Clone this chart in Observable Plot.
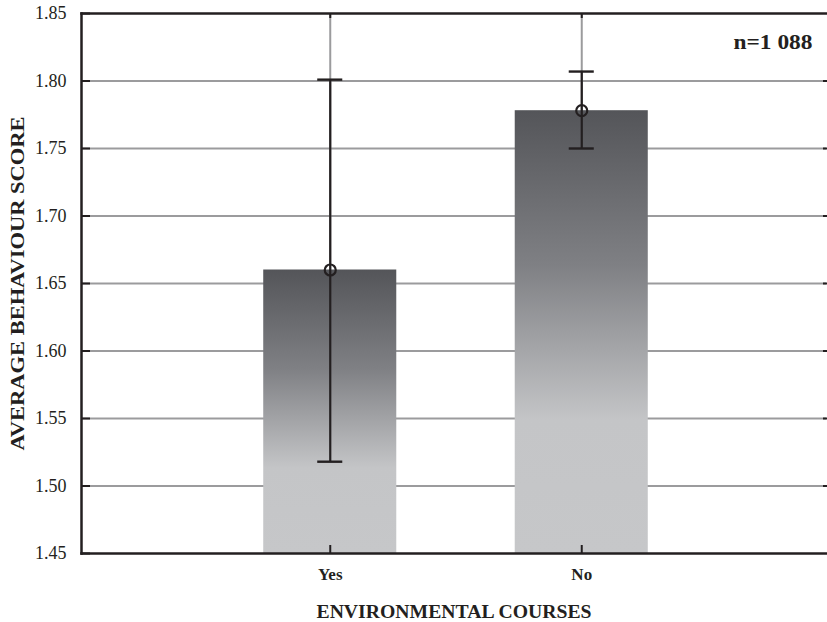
<!DOCTYPE html>
<html>
<head>
<meta charset="utf-8">
<script src="https://cdn.jsdelivr.net/npm/d3@7"></script>
<script src="https://cdn.jsdelivr.net/npm/@observablehq/plot@0.6"></script>
<style>
  html, body { margin: 0; padding: 0; background: #fff; }
  #chart svg, #chart svg text { font-family: "Liberation Serif", "Times New Roman", serif !important; }
</style>
</head>
<body>
<div id="chart"></div>
<script>
const categories = ["Yes", "No"];
const means = [1.660, 1.778];
const lower = [1.518, 1.750];
const upper = [1.801, 1.807];
const yTicks = [1.45, 1.50, 1.55, 1.60, 1.65, 1.70, 1.75, 1.80, 1.85];
const gridTicks = [1.50, 1.55, 1.60, 1.65, 1.70, 1.75, 1.80];
const yDomain = [1.45, 1.85];
const xTitle = "ENVIRONMENTAL COURSES";
const yTitle = "AVERAGE BEHAVIOUR SCORE";
const sampleLabel = "n=1 088";

const data = categories.map((c, i) => ({c, mean: means[i], lo: lower[i], hi: upper[i]}));

const ink = "#231f20";
const grid = "#9b9b9d";

const svg = Plot.plot({
  width: 827,
  height: 622,
  marginLeft: 81,
  marginTop: 13,
  marginRight: 1,
  marginBottom: 69,
  style: {color: ink, background: "#fff"},
  x: {domain: categories, range: [83, 828], paddingInner: 0.471, paddingOuter: 0.7166, round: false, label: null},
  y: {domain: yDomain, label: null},
  marks: [
    Plot.gridY(gridTicks, {stroke: grid, strokeOpacity: 1, strokeWidth: 2}),
    Plot.gridX({stroke: grid, strokeOpacity: 1, strokeWidth: 2}),
    Plot.barY(data, {x: "c", y1: yDomain[0], y2: "mean", fill: "url(#barGrad)"}),
    Plot.ruleX(data, {x: "c", y1: "lo", y2: "hi", stroke: ink, strokeWidth: 2.2}),
    Plot.tickY(data, {x: "c", y: "lo", insetLeft: 54, insetRight: 54, stroke: ink, strokeWidth: 2.4}),
    Plot.tickY(data, {x: "c", y: "hi", insetLeft: 54, insetRight: 54, stroke: ink, strokeWidth: 2.4}),
    Plot.dot(data, {x: "c", y: "mean", r: 5.5, stroke: ink, strokeWidth: 2.2, fill: "none"}),
    Plot.axisY(yTicks, {tickSize: -9, tickPadding: 24, tickFormat: d3.format(".2f"), strokeWidth: 2, fontSize: 18, stroke: ink}),
    Plot.axisY(gridTicks, {anchor: "right", tickSize: -4, tickFormat: () => "", strokeWidth: 2, stroke: ink}),
    Plot.axisX({tickSize: -8, tickPadding: 22, fontWeight: "bold", fontSize: 17, strokeWidth: 2, stroke: ink}),
    Plot.axisX({anchor: "top", tickSize: -4, tickFormat: () => "", strokeWidth: 2, stroke: ink}),
    Plot.frame({anchor: "left", stroke: ink, strokeWidth: 2.5}),
    Plot.frame({anchor: "top", stroke: ink, strokeWidth: 2.5}),
    Plot.frame({anchor: "bottom", stroke: ink, strokeWidth: 2.5}),
    Plot.text([xTitle], {text: d => d, frameAnchor: "bottom", dy: 58, lineAnchor: "middle", fontWeight: "bold", fontSize: 19.5, fill: ink}),
    Plot.text([yTitle], {text: d => d, frameAnchor: "left", dx: -64, rotate: -90, textAnchor: "middle", lineAnchor: "middle", fontWeight: "bold", fontSize: 19, fill: ink}),
    Plot.text([sampleLabel], {text: d => d, frameAnchor: "top-right", dx: -14, dy: 29, textAnchor: "end", lineAnchor: "middle", fontWeight: "bold", fontSize: 20, fill: ink})
  ]
});

// stretch the bold titles horizontally as in the reference
const stretch = new Map([[xTitle, 275], [yTitle, 334], [sampleLabel, 79]]);
d3.select(svg).selectAll("text").each(function() {
  const t = this.textContent;
  if (stretch.has(t)) {
    this.setAttribute("textLength", stretch.get(t));
    this.setAttribute("lengthAdjust", "spacingAndGlyphs");
  }
});

const defs = document.createElementNS("http://www.w3.org/2000/svg", "defs");
defs.innerHTML = `<linearGradient id="barGrad" x1="0" y1="0" x2="0" y2="1">
  <stop offset="0" stop-color="#545559"/>
  <stop offset="0.35" stop-color="#7f8084"/>
  <stop offset="0.7" stop-color="#c4c5c7"/>
  <stop offset="1" stop-color="#c6c7c9"/>
</linearGradient>`;
svg.insertBefore(defs, svg.firstChild);
document.getElementById("chart").appendChild(svg);
</script>
</body>
</html>
